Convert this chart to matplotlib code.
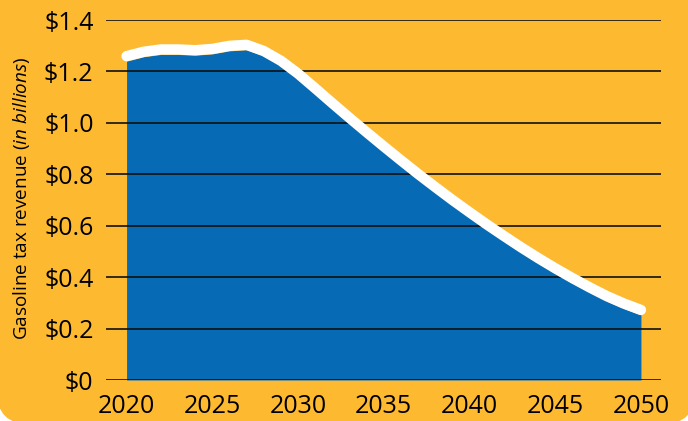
import numpy as np
import matplotlib
matplotlib.use("Agg")
import matplotlib.pyplot as plt
from matplotlib.patches import FancyBboxPatch
from matplotlib import transforms

ORANGE = "#FDBA31"
BLUE = "#066AB4"

years = [2020, 2021, 2022, 2023, 2024, 2025, 2026, 2027, 2028, 2029,
         2030, 2031, 2032, 2033, 2034, 2035, 2036, 2037, 2038, 2039,
         2040, 2041, 2042, 2043, 2044, 2045, 2046, 2047, 2048, 2049, 2050]
revenue = [1.240, 1.257, 1.266, 1.266, 1.263, 1.268, 1.280, 1.284, 1.260, 1.222,
           1.172, 1.115, 1.057, 1.000, 0.944, 0.889, 0.835, 0.782, 0.731, 0.681,
           0.633, 0.586, 0.541, 0.497, 0.455, 0.415, 0.377, 0.341, 0.307, 0.278,
           0.253]

y_ticks = [0, 0.2, 0.4, 0.6, 0.8, 1.0, 1.2, 1.4]
y_labels = ["$0", "$0.2", "$0.4", "$0.6", "$0.8", "$1.0", "$1.2", "$1.4"]
x_ticks = [2020, 2025, 2030, 2035, 2040, 2045, 2050]

plt.rcParams["font.family"] = ["Open Sans", "DejaVu Sans"]
plt.rcParams["mathtext.fontset"] = "custom"
plt.rcParams["mathtext.rm"] = "Open Sans"
plt.rcParams["mathtext.it"] = "Open Sans:italic"

fig = plt.figure(figsize=(6.88, 4.21), dpi=100, facecolor="white")
W, H = 688, 421

# rounded orange card behind everything (inch units so the corners stay round)
bg = FancyBboxPatch((-0.03, -0.03), 6.98, 4.70,
                    boxstyle="round,pad=0,rounding_size=0.32",
                    transform=fig.dpi_scale_trans, facecolor=ORANGE,
                    edgecolor="none", zorder=-5)
fig.patches.append(bg)

ax = fig.add_axes([106 / W, 41 / H, 555 / W, 360 / H])
ax.set_facecolor("none")

ax.fill_between(years, revenue, 0, color=BLUE, lw=0, zorder=1)
shift = transforms.offset_copy(ax.transData, fig=fig, x=0, y=3.6, units="points")
ax.plot(years, revenue, color="white", lw=7.5, solid_capstyle="round",
        solid_joinstyle="round", transform=shift, zorder=3)

ax.set_xlim(2018.8, 2051.17)
ax.set_ylim(0, 1.4)
ax.set_yticks(y_ticks)
ax.set_yticklabels(y_labels)
ax.set_xticks(x_ticks)
ax.set_axisbelow(False)
ax.yaxis.grid(True, color="#111111", lw=1.2)
ax.xaxis.grid(False)
ax.tick_params(axis="both", length=0, labelsize=18, colors="black")
ax.tick_params(axis="y", pad=9)
ax.tick_params(axis="x", pad=10)
for s in ax.spines.values():
    s.set_visible(False)

fig.text(22 / W, 1 - 198 / H, r"Gasoline tax revenue $\mathit{(in\ billions)}$",
         rotation=90, ha="center", va="center", fontsize=13.6)

fig.savefig("out.png", dpi=100, facecolor="white")
